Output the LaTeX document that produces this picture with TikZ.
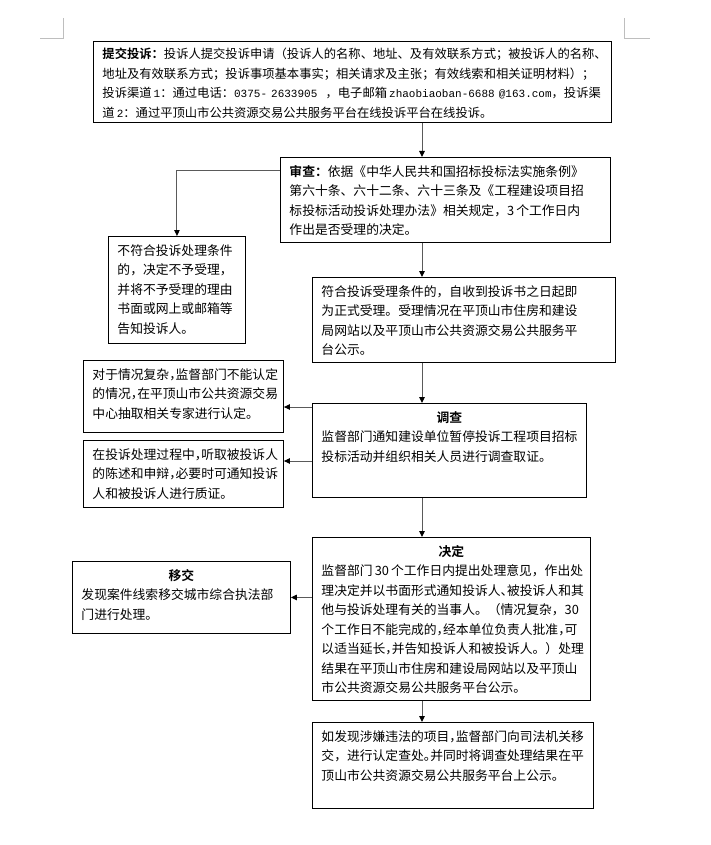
\documentclass[tikz,border=0pt]{standalone}
\usepackage{fontspec}
\setmainfont{Noto Sans CJK SC}[BoldFont={Noto Sans CJK SC Bold}]
\newfontfamily\latmono{Liberation Mono}
\usepackage{tikz}
\usetikzlibrary{arrows.meta, positioning, calc}
\usepackage{xcolor}
\definecolor{lgray}{RGB}{90,90,90}
\definecolor{mgray}{RGB}{190,190,190}
\newcommand{\lat}[1]{{\latmono\fontsize{11}{19.5}\selectfont #1}}
\newcommand{\halfc}{\makebox[0.5em][l]{，}}
\newcommand{\halfd}{\makebox[0.5em][l]{、}}
\newcommand{\halfp}{\makebox[0.5em][l]{。}}
\newcommand{\headline}[1]{\makebox[\linewidth]{\textbf{#1}}}

\begin{document}
\begin{tikzpicture}[x=1pt,y=-1pt,
  box/.style={draw,line width=0.9pt,anchor=north west,align=left,
              inner xsep=9pt,inner ysep=3pt,text height=16pt,
              font=\fontsize{12.8}{19.5}\selectfont},
  arr/.style={-{Triangle[width=5.5pt,length=6pt,color=black]},lgray,line width=1pt}
]
\useasboundingbox (0,0) rectangle (710,845);
% page corner marks
\draw[mgray,line width=0.7pt] (63,18) -- (63,38) -- (40,38);
\draw[mgray,line width=0.7pt] (624,18) -- (624,38) -- (650,38);

\node[box,text width=500pt,text height=14.5pt,text depth=60.5pt,
      font=\fontsize{12.3}{19.5}\selectfont] (sub) at (93,41)
  {\textbf{提交投诉：}投诉人提交投诉申请（投诉人的名称、地址、及有效联系方式；被投诉人的名称、\\
   地址及有效联系方式；投诉事项基本事实；相关请求及主张；有效线索和相关证明材料）；\\
   \mbox{投诉渠道\,\lat{1}：通过电话：\lat{0375- 2633905}\ \ ，电子邮箱\,\lat{zhaobiaoban-6688 @163.com}，投诉渠}\\
   道\,\lat{2}：通过平顶山市公共资源交易公共服务平台在线投诉平台在线投诉。};
\node[box,text width=312pt,text depth=63pt] (rev) at (280,157)
  {\textbf{审查：}依据《中华人民共和国招标投标法实施条例》\\
   第六十条、六十二条、六十三条及《工程建设项目招\\
   标投标活动投诉处理办法》相关规定，3\,个工作日内\\
   作出是否受理的决定。};
\node[box,text width=119pt,text depth=85pt] (rej) at (108,236)
  {不符合投诉处理条件\\的，决定不予受理，\\并将不予受理的理由\\书面或网上或邮箱等\\告知投诉人。};
\node[box,text width=285pt,text depth=63pt] (acc) at (312,277)
  {符合投诉受理条件的，自收到投诉书之日起即\\
   为正式受理。受理情况在平顶山市住房和建设\\
   局网站以及平顶山市公共资源交易公共服务平\\
   台公示。};
\node[box,text width=256pt,text depth=72pt] (inv) at (312,403)
  {\headline{调查}\\
   监督部门通知建设单位暂停投诉工程项目招标\\
   投标活动并组织相关人员进行调查取证。};
\node[box,text width=182pt,text depth=50pt] (exp) at (83,360)
  {对于情况复杂\halfc 监督部门不能认定\\
   的情况\halfc 在平顶山市公共资源交易\\
   中心抽取相关专家进行认定。};
\node[box,text width=182pt,text depth=45pt] (hear) at (83,440)
  {在投诉处理过程中\halfc 听取被投诉人\\
   的陈述和申辩\halfc 必要时可通知投诉\\
   人和被投诉人进行质证。};
\node[box,text width=260pt,text depth=141pt] (dec) at (312,537)
  {\headline{决定}\\
   监督部门\,30\,个工作日内提出处理意见，作出处\\
   理决定并以书面形式通知投诉人\halfd 被投诉人和其\\
   他与投诉处理有关的当事人。（情况复杂，30\\
   个工作日不能完成的\halfc 经本单位负责人批准\halfc 可\\
   以适当延长\halfc 并告知投诉人和被投诉人。）处理\\
   结果在平顶山市住房和建设局网站以及平顶山\\
   市公共资源交易公共服务平台公示。};
\node[box,text width=200pt,text depth=50pt] (trn) at (72,561)
  {\headline{移交}\\
   发现案件线索移交城市综合执法部\\
   门进行处理。};
\node[box,text width=263pt,text depth=64pt] (jud) at (312,722)
  {如发现涉嫌违法的项目\halfc 监督部门向司法机关移\\
   交，进行认定查处\halfp 并同时将调查处理结果在平\\
   顶山市公共资源交易公共服务平台上公示。};

\coordinate (mid) at (422,0);
\path ([yshift=-4pt]inv.north west) coordinate (t1);
\path ([yshift=-58pt]inv.north west) coordinate (t2);
\draw[arr] (sub.south -| mid) -- (rev.north -| mid);
\draw[arr] ([yshift=-14pt]rev.north west) -| (rej.north);
\draw[arr] (rev.south -| mid) -- (acc.north -| mid);
\draw[arr] (acc.south -| mid) -- (inv.north -| mid);
\draw[arr] (t1) -- (t1 -| exp.east);
\draw[arr] (t2) -- (t2 -| hear.east);
\draw[arr] (inv.south -| mid) -- (dec.north -| mid);
\draw[arr] (dec.west |- trn.east) -- (trn.east);
\draw[arr] (dec.south -| mid) -- (jud.north -| mid);
\end{tikzpicture}
\end{document}
